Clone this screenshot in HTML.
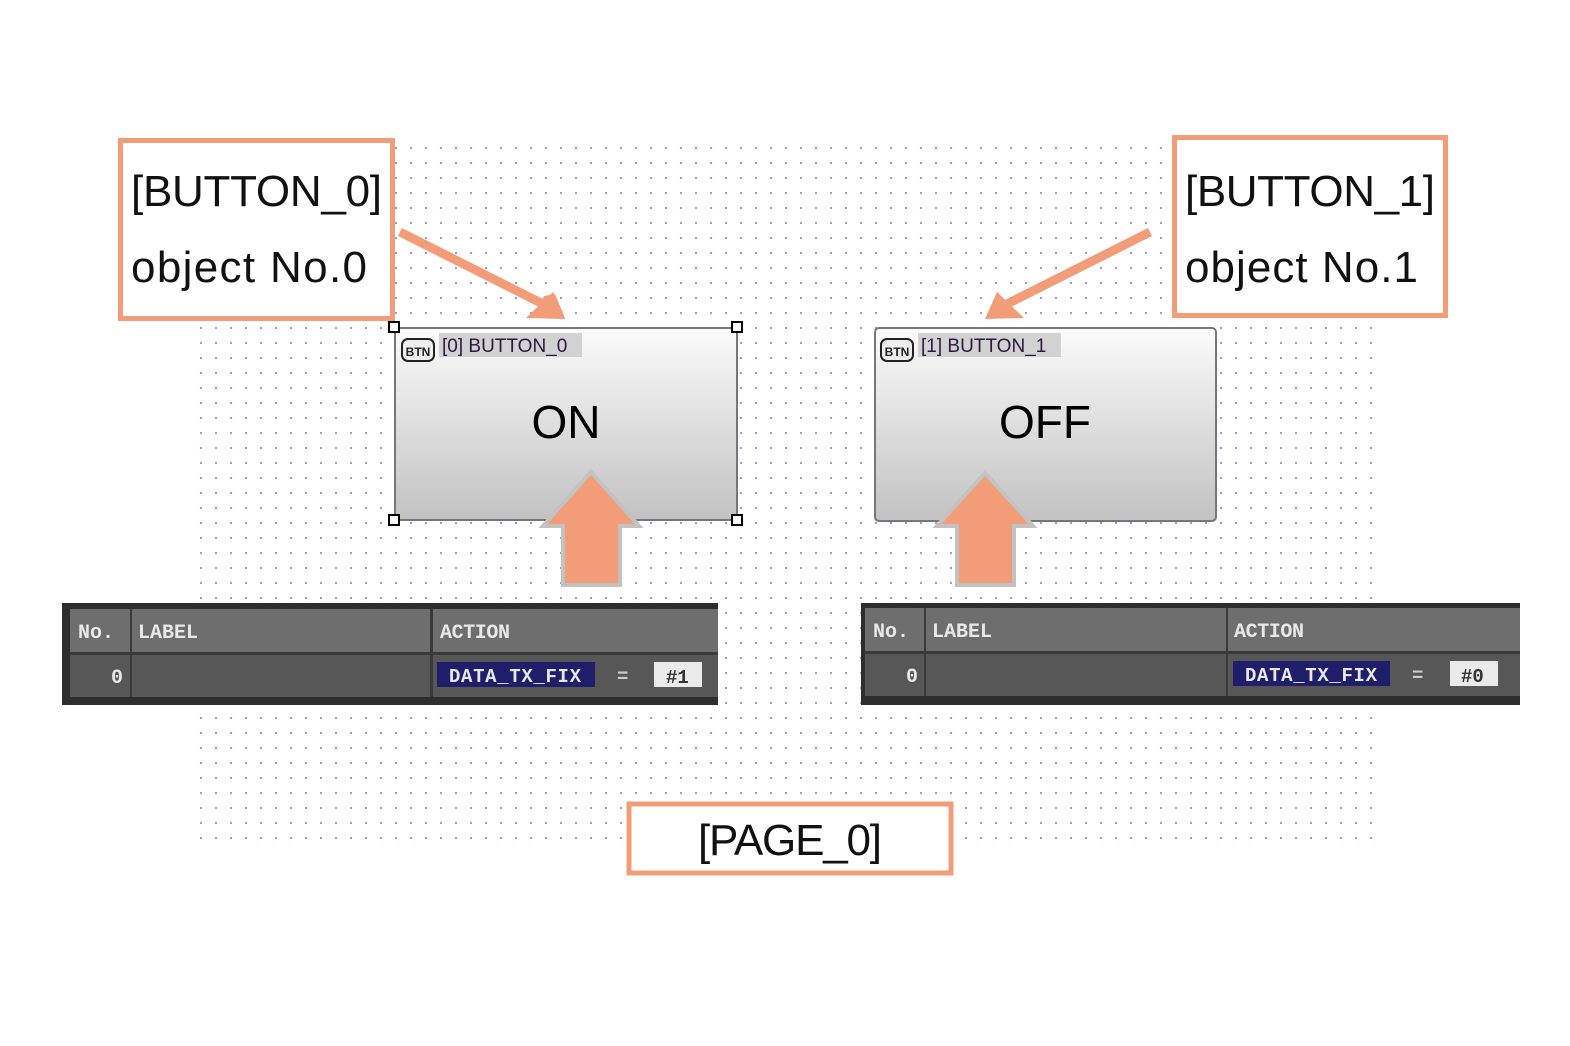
<!DOCTYPE html>
<html><head><meta charset="utf-8"><style>
html,body{margin:0;padding:0;background:#fff;}
svg{display:block}
text{font-family:"Liberation Sans",sans-serif}
.mono{font-family:"Liberation Mono",monospace;font-weight:bold}
</style></head><body>
<svg width="1570" height="1046" viewBox="0 0 1570 1046" xmlns="http://www.w3.org/2000/svg">
<defs>
<pattern id="dots" x="5" y="12" width="15" height="15" patternUnits="userSpaceOnUse">
<rect x="0" y="0" width="2" height="2" fill="#9a98e0"/>
</pattern>
<linearGradient id="bg" x1="0" y1="0" x2="0" y2="1">
<stop offset="0" stop-color="#fbfbfb"/><stop offset="1" stop-color="#c2c2c2"/>
</linearGradient>
</defs>
<rect x="199" y="146" width="1173" height="694" fill="url(#dots)"/>

<!-- label boxes -->
<rect x="120.5" y="140.5" width="272" height="178" fill="#fff" stroke="#f29c78" stroke-width="5"/>
<text x="131" y="206" font-size="44" textLength="251" fill="#111">[BUTTON_0]</text>
<text x="131" y="282" font-size="44" textLength="236" fill="#111">object No.0</text>
<rect x="1174.5" y="137.5" width="271" height="178" fill="#fff" stroke="#f29c78" stroke-width="5"/>
<text x="1185" y="206" font-size="44" textLength="250" fill="#111">[BUTTON_1]</text>
<text x="1185" y="282" font-size="44" textLength="233" fill="#111">object No.1</text>

<!-- diagonal arrows -->
<line x1="400" y1="232" x2="545" y2="305" stroke="#f29c78" stroke-width="9"/>
<polygon points="565,318 533,318 544,296 555,294" fill="#f29c78"/>
<polygon points="565,319 526,318 553,292" fill="#f29c78"/>
<line x1="1150" y1="232" x2="1005" y2="305" stroke="#f29c78" stroke-width="9"/>
<polygon points="985,319 1024,318 997,292" fill="#f29c78"/>

<!-- button 0 -->
<rect x="395" y="328" width="342" height="192" fill="url(#bg)" stroke="#777" stroke-width="2"/>
<rect x="439" y="333" width="143" height="24" fill="#d2d2d2"/>
<rect x="402" y="339" width="32" height="22" rx="6" fill="#eee" stroke="#222" stroke-width="2"/>
<text x="418" y="356" font-size="12" font-weight="bold" text-anchor="middle" fill="#222">BTN</text>
<text x="442" y="352" font-size="19" fill="#2a1a40">[0] BUTTON_0</text>
<text x="566" y="438" font-size="46" text-anchor="middle" fill="#000">ON</text>
<g fill="#fff" stroke="#000" stroke-width="2">
<rect x="389" y="322" width="10" height="10"/><rect x="732" y="322" width="10" height="10"/>
<rect x="389" y="515" width="10" height="10"/><rect x="732" y="515" width="10" height="10"/>
</g>

<!-- button 1 -->
<rect x="875" y="328" width="341" height="193" rx="4" fill="url(#bg)" stroke="#777" stroke-width="2"/>
<rect x="918" y="333" width="143" height="24" fill="#d2d2d2"/>
<rect x="881" y="339" width="32" height="22" rx="6" fill="#eee" stroke="#222" stroke-width="2"/>
<text x="897" y="356" font-size="12" font-weight="bold" text-anchor="middle" fill="#222">BTN</text>
<text x="921" y="352" font-size="19" fill="#2a1a40">[1] BUTTON_1</text>
<text x="1045" y="438" font-size="46" text-anchor="middle" fill="#000">OFF</text>

<!-- up arrows -->
<polygon points="591,472 639,526 620,526 620,585 563,585 563,526 543,526" fill="#f29c78" stroke="#c2c2c2" stroke-width="4"/>
<polygon points="985,473 1033,526 1014,526 1014,585 957,585 957,526 937,526" fill="#f29c78" stroke="#c2c2c2" stroke-width="4"/>

<!-- table left -->
<rect x="62" y="603" width="656" height="102" fill="#2e2e2e"/>
<rect x="70" y="609" width="648" height="43" fill="#6e6e6e"/>
<rect x="70" y="655" width="648" height="42" fill="#575757"/>
<rect x="130" y="609" width="2" height="88" fill="#3a3a3a"/>
<rect x="430" y="609" width="3" height="88" fill="#3a3a3a"/>
<rect x="70" y="652" width="648" height="3" fill="#3a3a3a"/>
<g class="mono" font-size="20" fill="#e8e8e8">
<text x="78" y="638" class="mono" textLength="36">No.</text>
<text x="138" y="638" class="mono" textLength="60">LABEL</text>
<text x="440" y="638" class="mono" textLength="70">ACTION</text>
<text x="111" y="683" class="mono">0</text>
</g>
<rect x="437" y="662" width="158" height="25" fill="#1e1e6a"/>
<text x="449" y="682" class="mono" font-size="19" fill="#e8e8e8" textLength="132">DATA_TX_FIX</text>
<text x="617" y="682" class="mono" font-size="19" fill="#ccc">=</text>
<rect x="654" y="662" width="48" height="25" fill="#eaeaea"/>
<text x="666" y="683" class="mono" font-size="19" fill="#333">#1</text>

<!-- table right -->
<rect x="861" y="603" width="659" height="102" fill="#2e2e2e"/>
<rect x="865" y="608" width="655" height="43" fill="#6e6e6e"/>
<rect x="865" y="654" width="655" height="42" fill="#575757"/>
<rect x="924" y="608" width="2" height="88" fill="#3a3a3a"/>
<rect x="1226" y="608" width="2" height="88" fill="#3a3a3a"/>
<rect x="865" y="651" width="655" height="3" fill="#3a3a3a"/>
<g font-size="20" fill="#e8e8e8">
<text x="873" y="637" class="mono" textLength="36">No.</text>
<text x="932" y="637" class="mono" textLength="60">LABEL</text>
<text x="1234" y="637" class="mono" textLength="70">ACTION</text>
<text x="906" y="682" class="mono">0</text>
</g>
<rect x="1233" y="661" width="157" height="25" fill="#1e1e6a"/>
<text x="1245" y="681" class="mono" font-size="19" fill="#e8e8e8" textLength="132">DATA_TX_FIX</text>
<text x="1412" y="681" class="mono" font-size="19" fill="#ccc">=</text>
<rect x="1450" y="661" width="48" height="25" fill="#eaeaea"/>
<text x="1461" y="682" class="mono" font-size="19" fill="#333">#0</text>

<!-- page label -->
<rect x="629" y="804" width="322" height="69" fill="#fff" stroke="#f29c78" stroke-width="5"/>
<text x="790" y="855" font-size="44" text-anchor="middle" fill="#111" textLength="184">[PAGE_0]</text>
</svg>
</body></html>
